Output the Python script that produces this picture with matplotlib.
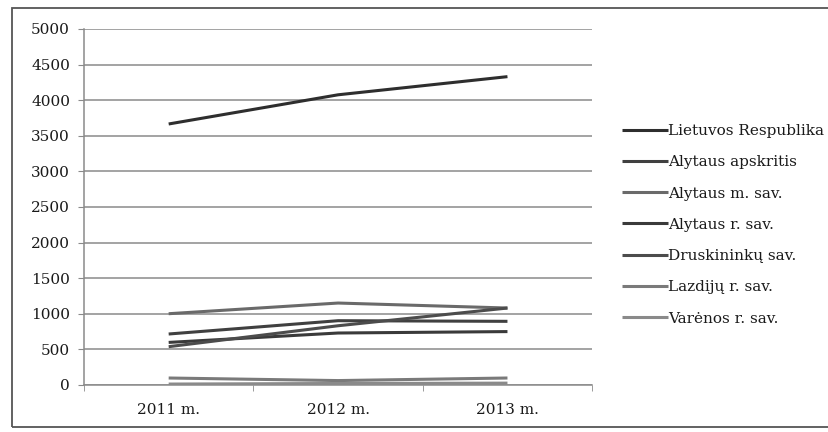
import matplotlib
matplotlib.use("Agg")
import matplotlib.pyplot as plt
from matplotlib.patches import Rectangle

plt.rcParams['font.family'] = ['DejaVu Serif', 'Liberation Serif']

# data
years = ["2011 m.", "2012 m.", "2013 m."]
series_names = ["Lietuvos Respublika", "Alytaus apskritis", "Alytaus m. sav.",
                "Alytaus r. sav.", "Druskininkų sav.", "Lazdijų r. sav.",
                "Varėnos r. sav."]
lietuva = [3665, 4075, 4330]
alytaus_aps = [715, 902, 893]
alytaus_m = [1000, 1150, 1080]
alytaus_r = [597, 729, 749]
druskininku = [537, 831, 1080]
lazdiju = [97, 61, 97]
varenos = [12, 20, 25]
yticks = [0, 500, 1000, 1500, 2000, 2500, 3000, 3500, 4000, 4500, 5000]

values = [lietuva, alytaus_aps, alytaus_m, alytaus_r, druskininku, lazdiju, varenos]
colors = ["#2e2e2e", "#404040", "#6a6a6a", "#3a3a3a", "#4c4c4c", "#7a7a7a", "#8a8a8a"]

fig = plt.figure(figsize=(8.29, 4.32), dpi=100)
ax = fig.add_axes([0.1013, 0.109, 0.613, 0.824])

x = range(len(years))
for name, vals, c in zip(series_names, values, colors):
    ax.plot(x, vals, color=c, lw=2.2, label=name, solid_capstyle="butt")

ax.set_xlim(-0.5, 2.5)
ax.set_ylim(0, 5000)
ax.set_yticks(yticks)
ax.set_xticks([0, 1, 2])
ax.set_xticklabels(years)
ax.set_xticks([-0.5, 0.5, 1.5, 2.5], minor=True)
ax.grid(axis="y", color="#8a8a8a", lw=1.1)
ax.set_axisbelow(True)

for s in ["top", "right"]:
    ax.spines[s].set_visible(False)
ax.spines["left"].set_color("#8a8a8a")
ax.spines["bottom"].set_color("#8a8a8a")
ax.spines["left"].set_linewidth(1.1)
ax.spines["bottom"].set_linewidth(1.1)

ax.tick_params(axis="y", length=4, color="#8a8a8a", pad=6, labelsize=11, labelcolor="#1a1a1a")
ax.tick_params(axis="x", which="major", length=0, pad=13, labelsize=11, labelcolor="#1a1a1a")
ax.tick_params(axis="x", which="minor", length=4, color="#8a8a8a")

leg = ax.legend(loc="upper left", bbox_to_anchor=(1.047, 0.75), frameon=False,
                handlelength=3.0, handletextpad=0.0, labelspacing=1.13,
                fontsize=11, borderaxespad=0)
for t in leg.get_texts():
    t.set_color("#1a1a1a")

# scan frame around the chart
fig.patches.append(Rectangle((12 / 829, 1 - 427 / 432), 1.0, (427 - 8) / 432,
                             transform=fig.transFigure, fill=False,
                             edgecolor="#555555", lw=1.3))

fig.savefig("out.png", dpi=100)
